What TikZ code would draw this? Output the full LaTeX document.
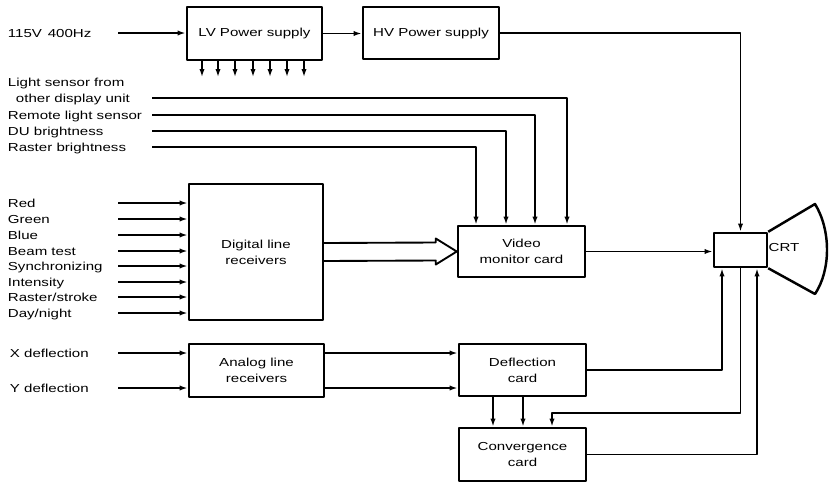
\documentclass[tikz,border=0pt]{standalone}
\usepackage{fontspec}
\setmainfont{Liberation Sans}[FakeStretch=1.3]
\usepackage{tikz}
\usetikzlibrary{arrows.meta,calc}

\tikzset{
  blk/.style={draw,line width=2.1pt,align=center,inner sep=0pt},
  lbl/.style={anchor=west,inner sep=0pt,text height=7.1pt,text depth=0pt},
}

\begin{document}
\begin{tikzpicture}[x=0.3mm, y=-0.3mm, >={Latex[length=7pt,width=4.5pt]}, line join=round, line width=1.6pt, font=\fontsize{9.9}{13.4}\selectfont]
  \useasboundingbox (0,0) rectangle (830,484);
  \coordinate (inx) at (118,0);
  \coordinate (sx) at (152,0);
  \coordinate (s1) at (567,0);
  \coordinate (s2) at (535,0);
  \coordinate (s3) at (506,0);
  \coordinate (s4) at (476,0);
  \coordinate (d1) at (493,0);
  \coordinate (d2) at (523,0);
  \coordinate (c1) at (722,0);
  \coordinate (c3) at (757,0);
  \coordinate (fb) at (552,413);
  \node[blk,minimum width=40.5mm,minimum height=15.9mm] (lv) at (254.5,33.5) {LV Power supply};
  \node[blk,minimum width=40.8mm,minimum height=15.6mm] (hv) at (431,33) {HV Power supply};
  \node[blk,minimum width=40.2mm,minimum height=40.8mm] (dig) at (256,252) {Digital line\\receivers};
  \node[blk,minimum width=38.1mm,minimum height=15.3mm] (vid) at (521.5,251.5) {Video\\monitor card};
  \node[blk,minimum width=15.9mm,minimum height=10.2mm] (crt) at (740.5,250) {};
  \node[blk,minimum width=40.5mm,minimum height=15.9mm] (ana) at (256.5,370.5) {Analog line\\receivers};
  \node[blk,minimum width=38.1mm,minimum height=15.6mm] (dfl) at (522.5,370) {Deflection\\card};
  \node[blk,minimum width=38.1mm,minimum height=15.9mm] (cnv) at (522.5,454.5) {Convergence\\card};
  \draw[line width=2.1pt] (crt.north east) -- (815,204) .. controls (831,230) and (831,270) .. (815,294) -- (crt.south east);
  \node (crtlbl) at (784,248) {CRT};
  \node[lbl] (lMains) at (7,33) {115V\enspace 400Hz};
  \node[lbl] (lLight) at (7,82) {Light sensor from};
  \node[lbl] (lOther) at (15,98) {other display unit};
  \node[lbl] (lRemote) at (7,115) {Remote light sensor};
  \node[lbl] (lDU) at (7,131) {DU brightness};
  \node[lbl] (lRaster) at (7,147) {Raster brightness};
  \node[lbl] (lRed) at (7,203) {Red};
  \node[lbl] (lGreen) at (7,219) {Green};
  \node[lbl] (lBlue) at (7,235) {Blue};
  \node[lbl] (lBeam) at (7,251) {Beam test};
  \node[lbl] (lSync) at (7,266) {Synchronizing};
  \node[lbl] (lInt) at (7,282) {Intensity};
  \node[lbl] (lRs) at (7,297) {Raster/stroke};
  \node[lbl] (lDay) at (7,313) {Day/night};
  \node[lbl] (lX) at (9,353) {X deflection};
  \node[lbl] (lY) at (9,388) {Y deflection};
  \draw[->] (lMains -| inx) -- (lMains -| lv.west);
  \draw[->] (lv.east) -- (lv.east -| hv.west);
  \draw[->] (hv.east) -| (crt.north);
  \foreach \x in {202,218,235,253,270,287,304}{
    \coordinate (o) at (\x,0);
    \draw[->] (o |- lv.south) -- ++(0,16);
  }
  \draw[->] (lOther -| sx) -| (s1 |- vid.north);
  \draw[->] (lRemote -| sx) -| (s2 |- vid.north);
  \draw[->] (lDU -| sx) -| (s3 |- vid.north);
  \draw[->] (lRaster -| sx) -| (s4 |- vid.north);
  \draw[->] (lRed -| inx) -- (lRed -| dig.west);
  \draw[->] (lGreen -| inx) -- (lGreen -| dig.west);
  \draw[->] (lBlue -| inx) -- (lBlue -| dig.west);
  \draw[->] (lBeam -| inx) -- (lBeam -| dig.west);
  \draw[->] (lSync -| inx) -- (lSync -| dig.west);
  \draw[->] (lInt -| inx) -- (lInt -| dig.west);
  \draw[->] (lRs -| inx) -- (lRs -| dig.west);
  \draw[->] (lDay -| inx) -- (lDay -| dig.west);
  \draw ($(dig.east)+(0,-9)$) -- ($(vid.west)+(-21,-9)$) -- ++(0,-4) -- (vid.west) -- ($(vid.west)+(-21,13)$) -- ++(0,-4) -- ($(dig.east)+(0,9)$);
  \draw[->] (vid.east) -- (vid.east -| crt.west);
  \draw[->] (lX -| inx) -- (lX -| ana.west);
  \draw[->] (lY -| inx) -- (lY -| ana.west);
  \draw[->] (lX -| ana.east) -- (lX -| dfl.west);
  \draw[->] (lY -| ana.east) -- (lY -| dfl.west);
  \draw[->] (d1 |- dfl.south) -- (d1 |- cnv.north);
  \draw[->] (d2 |- dfl.south) -- (d2 |- cnv.north);
  \draw[->] (dfl.east) -| (c1 |- crt.south);
  \draw[->] (crt.south) |- (fb) -- (fb |- cnv.north);
  \draw[->] (cnv.east) -| (c3 |- crt.south);
\end{tikzpicture}
\end{document}
